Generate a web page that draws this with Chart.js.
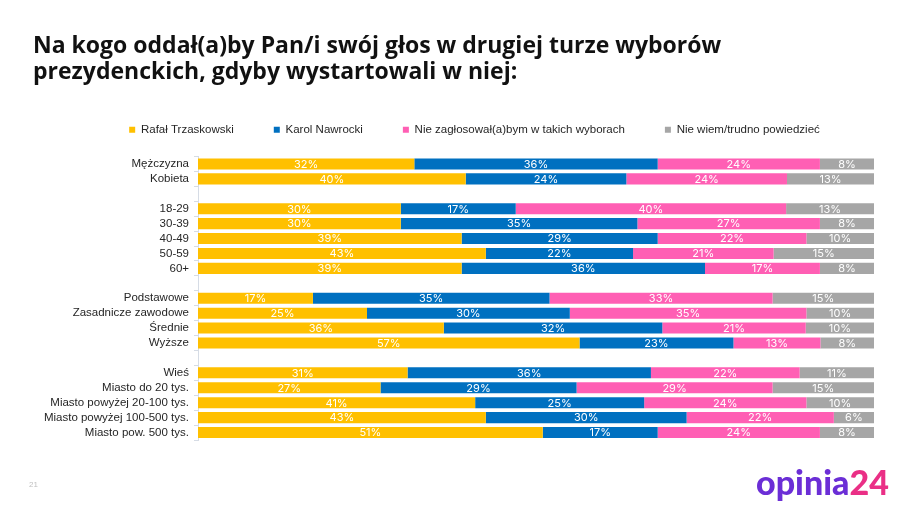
<!DOCTYPE html>
<html>
<head>
<meta charset="utf-8">
<script src="https://cdn.jsdelivr.net/npm/chart.js@4.4.1/dist/chart.umd.min.js"></script>
<style>
  html, body { margin: 0; padding: 0; background: #ffffff; }
  #wrap { position: relative; width: 915px; height: 514px; overflow: hidden; }
  #c { position: absolute; left: 0; top: 0; }
  #logo { position: absolute; left: 756px; top: 462px; font-family: Lato, sans-serif; font-weight: 900; font-size: 34px; letter-spacing: 0px; line-height: 40px; }
  #logo .a { color: #6B2ED6; }
  #logo .b { color: #EA2F86; }
  #page { position: absolute; left: 29px; top: 480px; font-family: Arial, "Liberation Sans", sans-serif; font-size: 8px; color: #BFBFBF; }
</style>
</head>
<body>
<div id="wrap">
  <canvas id="c" width="915" height="514"></canvas>
  <div id="page">21</div>
  <div id="logo"><span class="a">opinia</span><span class="b">24</span></div>
</div>
<script>
const titleLines = ['Na kogo oddał(a)by Pan/i swój głos w drugiej turze wyborów', 'prezydenckich, gdyby wystartowali w niej:'];
const seriesNames = ['Rafał Trzaskowski', 'Karol Nawrocki', 'Nie zagłosował(a)bym w takich wyborach', 'Nie wiem/trudno powiedzieć'];
const categories = ['Mężczyzna', 'Kobieta', '', '18-29', '30-39', '40-49', '50-59', '60+', '', 'Podstawowe', 'Zasadnicze zawodowe', 'Średnie', 'Wyższe', '', 'Wieś', 'Miasto do 20 tys.', 'Miasto powyżej 20-100 tys.', 'Miasto powyżej 100-500 tys.', 'Miasto pow. 500 tys.'];
const trzaskowski = [32, 40, null, 30, 30, 39, 43, 39, null, 17, 25, 36, 57, null, 31, 27, 41, 43, 51];
const nawrocki    = [36, 24, null, 17, 35, 29, 22, 36, null, 35, 30, 32, 23, null, 36, 29, 25, 30, 17];
const nieGlos     = [24, 24, null, 40, 27, 22, 21, 17, null, 33, 35, 21, 13, null, 22, 29, 24, 22, 24];
const nieWiem     = [8, 13, null, 13, 8, 10, 15, 8, null, 15, 10, 10, 8, null, 11, 15, 10, 6, 8];

const colors = ['#FFC000', '#0070C0', '#FF5FB4', '#A6A6A6'];
const raw = [trzaskowski, nawrocki, nieGlos, nieWiem];
const sums = categories.map((_, i) => raw.reduce((s, arr) => s + (arr[i] || 0), 0));
const norm = arr => arr.map((v, i) => v == null ? null : v / sums[i] * 100);

const labelPlugin = {
  id: 'barLabels',
  afterDatasetsDraw(chart) {
    const ctx = chart.ctx;
    ctx.save();
    ctx.fillStyle = '#FFFFFF';
    ctx.font = '400 11px Inter, "Open Sans", sans-serif';
    ctx.textAlign = 'center';
    ctx.textBaseline = 'middle';
    chart.data.datasets.forEach((ds, di) => {
      const meta = chart.getDatasetMeta(di);
      meta.data.forEach((el, i) => {
        const v = raw[di][i];
        if (v == null) return;
        const p = el.getCenterPoint();
        ctx.fillText(v + '%', p.x, p.y + 0.5);
      });
    });
    ctx.restore();
  }
};

const legendShift = {
  id: 'legendShift',
  afterLayout(chart) {
    if (chart.legend) {
      chart.legend.left += 21;
      chart.legend.right += 21;
    }
  }
};

new Chart(document.getElementById('c'), {
  type: 'bar',
  data: {
    labels: categories,
    datasets: seriesNames.map((n, k) => ({
      label: n,
      data: norm(raw[k]),
      backgroundColor: colors[k],
      borderWidth: 0,
      categoryPercentage: 1,
      barPercentage: 0.74
    }))
  },
  options: {
    indexAxis: 'y',
    responsive: false,
    animation: false,
    layout: { padding: { left: 33, right: 41, top: 0, bottom: 74 } },
    plugins: {
      title: {
        display: true,
        text: titleLines,
        align: 'start',
        color: '#111111',
        font: { family: '"Open Sans", sans-serif', size: 23, weight: '700', lineHeight: 1.13 },
        padding: { top: 33, bottom: -1 }
      },
      legend: {
        display: true,
        position: 'top',
        align: 'center',
        labels: {
          boxWidth: 6,
          boxHeight: 6,
          padding: 40,
          color: '#262626',
          font: { family: 'Arial, "Liberation Sans", sans-serif', size: 11.5 }
        }
      },
      tooltip: { enabled: false }
    },
    scales: {
      x: {
        stacked: true,
        display: true,
        position: 'top',
        min: 0,
        max: 100,
        afterFit(scale) { scale.height = 11; },
        grid: { display: false },
        border: { display: false },
        ticks: { display: false }
      },
      y: {
        stacked: true,
        afterFit(scale) { scale.width = 165; },
        grid: {
          display: true,
          drawOnChartArea: false,
          drawTicks: true,
          tickLength: 4,
          offset: true,
          color: '#D6DCE5'
        },
        border: { display: true, color: '#D6DCE5' },
        ticks: {
          autoSkip: false,
          color: '#262626',
          padding: 5,
          font: { family: 'Arial, "Liberation Sans", sans-serif', size: 11.5 }
        }
      }
    }
  },
  plugins: [labelPlugin, legendShift]
});
</script>
</body>
</html>
